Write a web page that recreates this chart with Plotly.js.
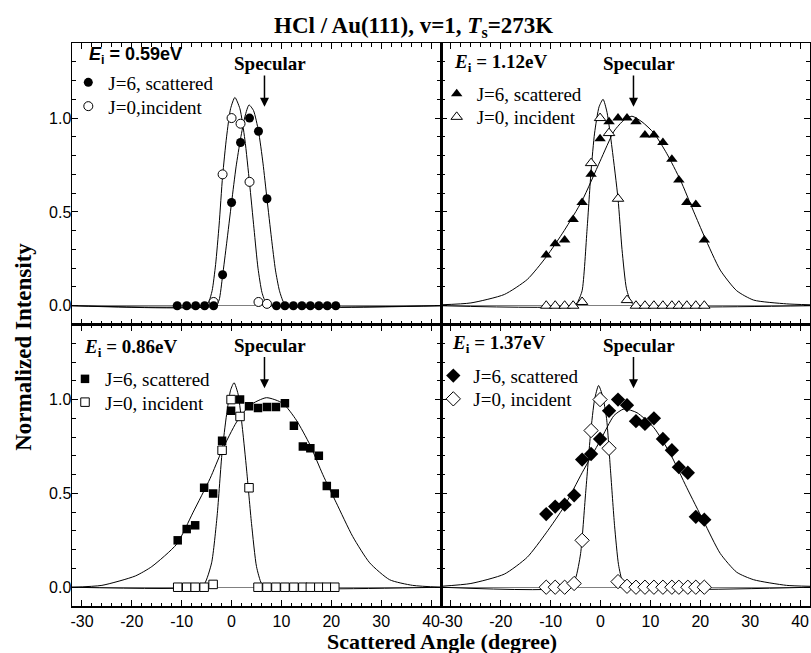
<!DOCTYPE html>
<html>
<head>
<meta charset="utf-8">
<script src="https://cdn.plot.ly/plotly-3.0.1.min.js"></script>
<style>html,body{margin:0;padding:0;background:#fff;}#chart{width:811px;height:653px;}</style>
</head>
<body>
<div id="chart"></div>
<script>
// ---------- DATA ----------
// Panel A: Ei = 0.59 eV (circles)
var angA = [-10.9,-9.0,-7.2,-5.4,-3.6,-1.8,0,1.8,3.6,5.4,7.1,9.0,10.7,12.4,14.1,15.8,17.5,19.2,20.9];
var scatA = [0,0,0,0,0,0.165,0.55,0.87,1.0,0.93,0.57,0,0,0,0,0,0,0,0];
var angIncA = [-3.6,-1.8,0,1.8,3.6,5.4,7.1];
var incA = [0.02,0.70,1.0,0.97,0.66,0.02,0.01];
var fitIncA_x = [-32,-5.5,-4.6,-3.9,-3.2,-2.5,-1.8,-1.0,-0.2,0.66,1.67,2.67,3.6,4.5,5.3,6.1,6.9,7.8,42];
var fitIncA_y = [0,0,0.02,0.08,0.22,0.43,0.69,0.90,1.05,1.11,1.05,0.885,0.655,0.41,0.20,0.07,0.015,0,0];
var fitScatA_x = [-32,-3.2,-2.5,-1.8,-1.0,0,0.9,1.8,2.7,3.5,4.4,5.4,6.3,7.1,8.0,8.8,9.6,10.4,11.2,42];
var fitScatA_y = [0,0,0.03,0.16,0.33,0.55,0.74,0.89,1.01,1.07,1.04,0.93,0.76,0.57,0.36,0.19,0.08,0.02,0,0];

// Panel B: Ei = 1.12 eV (triangles)
var angB = [-10.9,-9.1,-7.2,-5.5,-3.7,-1.9,-0.1,1.7,3.5,5.3,7.1,8.9,10.7,12.5,14.3,15.7,17.3,19.1,20.8];
var scatB = [0.27,0.33,0.35,0.46,0.55,0.70,0.89,0.98,1.0,1.0,0.98,0.91,0.91,0.87,0.78,0.67,0.55,0.54,0.35];
var incB = [0,0,0,0,0.02,0.76,1.0,0.92,0.57,0.03,0,0,0,0,0,0,0,0,0];
var fitIncB_x = [-32,-5.3,-4.6,-3.7,-2.7,-1.9,-1.2,-0.3,0.5,1.3,2.3,3.5,4.3,5.2,6.2,7.2,42];
var fitIncB_y = [0,0,0.02,0.08,0.41,0.72,0.92,1.06,1.10,1.03,0.84,0.57,0.30,0.09,0.015,0,0];
var fitScatB_x = [-32,-26,-19.3,-14.7,-10.9,-7.3,-3.7,-0.1,2.7,4.7,6.3,8.3,10.7,13.3,16,18.7,20.8,24,27.3,30.7,37.3,42];
var fitScatB_y = [0.005,0.015,0.06,0.14,0.26,0.40,0.56,0.77,0.93,0.99,1.01,0.98,0.92,0.81,0.67,0.50,0.37,0.19,0.08,0.03,0.01,0.005];

// Panel C: Ei = 0.86 eV (squares)
var angC = [-10.8,-9.0,-7.3,-5.5,-3.7,-1.9,-0.1,1.7,3.5,5.3,7.1,8.9,10.7,12.5,14.3,15.8,17.5,19.1,20.7];
var scatC = [0.25,0.31,0.33,0.53,0.50,0.78,0.94,1.0,0.965,0.955,0.96,0.96,0.98,0.86,0.75,0.74,0.70,0.54,0.50];
var incC = [0,0,0,0,0.015,0.73,1.0,0.91,0.53,0,0,0,0,0,0,0,0,0,0];
var fitIncC_x = [-32,-6.7,-5.4,-4.0,-2.9,-1.9,-1.0,-0.2,0.5,1.3,2.2,3.0,4.0,5.0,6.0,7.0,42];
var fitIncC_y = [0,0,0.02,0.13,0.38,0.72,0.92,1.05,1.09,1.03,0.84,0.63,0.34,0.11,0.02,0,0];
var fitScatC_x = [-32,-26,-19.3,-16,-11,-7.7,-4.3,-1.9,1.0,3.7,7.0,10.3,13,15.7,18.3,21,24.3,27.7,31.7,36.3,42];
var fitScatC_y = [0,0.01,0.06,0.11,0.23,0.40,0.58,0.73,0.88,0.97,1.01,0.98,0.89,0.76,0.60,0.45,0.27,0.13,0.04,0.01,0];

// Panel D: Ei = 1.37 eV (diamonds)
var angD = [-10.9,-9.1,-7.2,-5.3,-3.7,-1.9,-0.1,1.7,3.5,5.3,7.1,8.9,10.7,12.5,14.3,15.7,17.5,19.1,20.8];
var scatD = [0.39,0.43,0.44,0.49,0.68,0.71,0.79,0.94,1.0,0.97,0.885,0.87,0.90,0.79,0.73,0.64,0.61,0.375,0.36];
var incD = [0,0,0,0.02,0.25,0.835,1.0,0.74,0.03,0.005,0,0,0,0,0,0,0,0,0];
var fitIncD_x = [-32,-6.3,-5.0,-4.0,-3.0,-2.0,-1.2,-0.4,0.4,1.2,2.0,2.8,3.6,4.4,5.4,42];
var fitIncD_y = [0,0,0.05,0.18,0.50,0.82,1.0,1.075,1.02,0.90,0.62,0.33,0.12,0.03,0,0];
var fitScatD_x = [-32,-26,-19.3,-14.7,-10.9,-7.3,-3.7,-0.1,2.7,4.7,7.3,10.7,14,17.3,20.7,24,27.3,30.7,37.3,42];
var fitScatD_y = [0.005,0.02,0.07,0.16,0.29,0.43,0.61,0.78,0.915,0.95,0.93,0.85,0.71,0.53,0.35,0.18,0.08,0.04,0.01,0.005];

var energies = ['0.59eV','1.12eV','0.86eV','1.37eV'];
var specularAngle = 6.6;
var xTickVals = [-30,-20,-10,0,10,20,30,40];
var yTickVals = [0,0.5,1.0];

// ---------- FIGURE ----------
var serif = 'Liberation Serif, Times New Roman, serif';
var sans = 'Liberation Sans, Arial, sans-serif';
var data = [];
function lgName(k) { return k === 1 ? 'legend' : 'legend' + k; }
function addPanel(n, xs, ys, fitIx, fitIy, fitSx, fitSy, angInc, inc, sym, msize, scatName, incName) {
  var xa = n === 1 ? 'x' : 'x' + n, ya = n === 1 ? 'y' : 'y' + n;
  var line = {color: 'black', width: 1, shape: 'spline', smoothing: 0.6};
  data.push({x: fitIx, y: fitIy, xaxis: xa, yaxis: ya, mode: 'lines', line: line, showlegend: false, hoverinfo: 'skip'});
  data.push({x: fitSx, y: fitSy, xaxis: xa, yaxis: ya, mode: 'lines', line: line, showlegend: false, hoverinfo: 'skip'});
  data.push({x: angInc, y: inc, xaxis: xa, yaxis: ya, mode: 'markers', name: incName, legend: lgName(2 * n),
    marker: {symbol: sym, size: msize, color: 'white', line: {color: 'black', width: 1}}});
  data.push({x: xs, y: ys, xaxis: xa, yaxis: ya, mode: 'markers', name: scatName, legend: lgName(2 * n - 1),
    marker: {symbol: sym, size: msize, color: 'black', line: {color: 'black', width: 0}}});
}
addPanel(1, angA, scatA, fitIncA_x, fitIncA_y, fitScatA_x, fitScatA_y, angIncA, incA, 'circle', 9, 'J=6, scattered', 'J=0,incident');
addPanel(2, angB, scatB, fitIncB_x, fitIncB_y, fitScatB_x, fitScatB_y, angB, incB, 'triangle-up', 10, 'J=6, scattered', 'J=0, incident');
addPanel(3, angC, scatC, fitIncC_x, fitIncC_y, fitScatC_x, fitScatC_y, angC, incC, 'square', 8.5, 'J=6, scattered', 'J=0, incident');
addPanel(4, angD, scatD, fitIncD_x, fitIncD_y, fitScatD_x, fitScatD_y, angD, incD, 'diamond', 11, 'J=6, scattered', 'J=0, incident');

function xAxis(dom, anchor, labels) {
  return {domain: dom, anchor: anchor, range: [-32, 42], tickvals: xTickVals, ticktext: xTickVals.map(String),
    showticklabels: labels, ticks: 'inside', ticklen: 6, tickwidth: 1, tickcolor: 'black',
    minor: {ticks: 'inside', ticklen: 3.5, dtick: 2, tick0: 0, tickcolor: 'black', tickwidth: 1, showgrid: false},
    showline: true, linecolor: 'black', linewidth: 1.5, mirror: 'ticks', showgrid: false, zeroline: false,
    tickfont: {family: sans, size: 16, color: 'black'}, fixedrange: true};
}
function yAxis(dom, anchor, labels) {
  return {domain: dom, anchor: anchor, range: [-0.1, 1.4], tickvals: yTickVals, ticktext: ['0.0','0.5','1.0'],
    showticklabels: labels, ticks: 'inside', ticklen: 6, tickwidth: 1, tickcolor: 'black', ticklabelstandoff: -4,
    minor: {ticks: 'inside', ticklen: 4, dtick: 0.1, tick0: 0, tickcolor: 'black', tickwidth: 1, showgrid: false},
    showline: true, linecolor: 'black', linewidth: 1.5, mirror: 'ticks', showgrid: false,
    zeroline: true, zerolinecolor: '#808080', zerolinewidth: 1,
    tickfont: {family: sans, size: 16, color: 'black'}, fixedrange: true};
}
// legend row: marker centre (px) -> legend box top-left in paper coords
function legendRow(markerX, rowY) {
  return {x: (markerX - 20 - 72) / 738, y: (606 - (rowY - 20)) / 563, xanchor: 'left', yanchor: 'top',
    bgcolor: 'rgba(0,0,0,0)', borderwidth: 0, font: {family: serif, size: 19, color: 'black'},
    itemwidth: 30, tracegroupgap: 0};
}

var anns = [];
var panelRefs = [['x','y'],['x2','y2'],['x3','y3'],['x4','y4']];
var eiPos = [[0.04,0.957],[0.029,0.93],[0.026,0.917],[0.024,0.929]];
panelRefs.forEach(function (r, i) {
  anns.push({xref: r[0], yref: r[1], x: specularAngle + 1.1, y: 1.29, text: '<b>Specular</b>', showarrow: false,
    font: {family: serif, size: 19, color: 'black'}});
  anns.push({xref: r[0], yref: r[1], x: specularAngle, y: 1.06, axref: r[0], ayref: r[1], ax: specularAngle, ay: 1.235,
    text: '', showarrow: true, arrowhead: 2, arrowsize: 1.2, arrowwidth: 1.5, arrowcolor: 'black'});
  anns.push({xref: r[0] + ' domain', yref: r[1] + ' domain', x: eiPos[i][0], y: eiPos[i][1], xanchor: 'left', yanchor: 'middle',
    text: '<b><i>E</i><sub>i</sub> = ' + energies[i] + '</b>', showarrow: false,
    font: {family: i === 0 ? sans : serif, size: i === 0 ? 18 : 19, color: 'black'}});
});
anns.push({xref: 'paper', yref: 'paper', x: 0.501, y: -0.0622, xanchor: 'center', yanchor: 'middle',
  text: '<b>Scattered Angle (degree)</b>', showarrow: false, font: {family: serif, size: 22, color: 'black'}});
anns.push({xref: 'paper', yref: 'paper', x: -0.066, y: 0.461, xanchor: 'center', yanchor: 'middle', textangle: -90,
  text: '<b>Normalized Intensity</b>', showarrow: false, font: {family: serif, size: 23, color: 'black'}});

var layout = {
  width: 811, height: 653,
  margin: {l: 72, r: 1, t: 43, b: 47},
  paper_bgcolor: 'white', plot_bgcolor: 'white',
  title: {text: '<b>HCl / Au(111), v=1, <i>T</i><sub>s</sub>=273K</b>', font: {family: serif, size: 23, color: 'black'},
    xref: 'container', yref: 'container', x: 0.51, xanchor: 'center', y: 0.962, yanchor: 'middle'},
  xaxis: xAxis([0, 0.5], 'y', false),
  xaxis2: xAxis([0.5, 1], 'y2', false),
  xaxis3: xAxis([0, 0.5], 'y3', true),
  xaxis4: xAxis([0.5, 1], 'y4', true),
  yaxis: yAxis([0.5, 1], 'x', true),
  yaxis2: yAxis([0.5, 1], 'x2', false),
  yaxis3: yAxis([0, 0.5], 'x3', true),
  yaxis4: yAxis([0, 0.5], 'x4', false),
  legend: legendRow(88.3, 83.5),
  legend2: legendRow(88.3, 107.3),
  legend3: legendRow(456.7, 95),
  legend4: legendRow(456.7, 118),
  legend5: legendRow(85, 380),
  legend6: legendRow(85, 403.3),
  legend7: legendRow(453.3, 376.7),
  legend8: legendRow(453.3, 400),
  annotations: anns,
  showlegend: true
};
Plotly.newPlot('chart', data, layout, {displayModeBar: false, staticPlot: true});
</script>
</body>
</html>
